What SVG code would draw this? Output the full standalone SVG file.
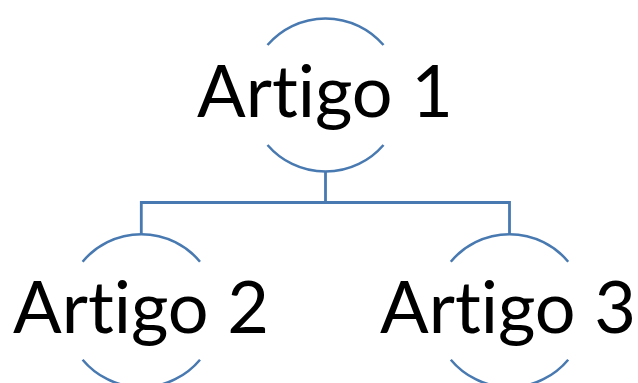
<svg xmlns="http://www.w3.org/2000/svg" width="638" height="383" viewBox="0 0 638 383">
  <style>
    .ring { fill: none; stroke: #4879B0; stroke-width: 2.5; }
    .link { fill: none; stroke: #4879B0; stroke-width: 2.8; }
    .label { font-family: Lato, "Open Sans", sans-serif; font-size: 72px; fill: #000; text-anchor: middle; font-variant-ligatures: none; font-feature-settings: "liga" 0; }
  </style>
  <rect width="638" height="383" fill="#fff"/>
  <g id="connectors">
    <path class="link" d="M325.5 171.5 V202.5 M141.3 234.2 V202.5 H509.5 V234.2"/>
  </g>
  <g id="artigo-1">
    <path class="ring" d="M267.5 45 A76.5 76.5 0 0 1 383.5 45"/>
    <path class="ring" d="M267.5 145 A76.5 76.5 0 0 0 383.5 145"/>
    <text class="label" x="325" y="117">Artigo 1</text>
  </g>
  <g id="artigo-2">
    <path class="ring" d="M82.6 261.7 A76.5 76.5 0 0 1 200 261.7"/>
    <path class="ring" d="M82.6 359.7 A76.5 76.5 0 0 0 200 359.7"/>
    <text class="label" x="141" y="333">Artigo 2</text>
  </g>
  <g id="artigo-3">
    <path class="ring" d="M450.8 261.7 A76.5 76.5 0 0 1 568.2 261.7"/>
    <path class="ring" d="M450.8 359.7 A76.5 76.5 0 0 0 568.2 359.7"/>
    <text class="label" x="508" y="333">Artigo 3</text>
  </g>
</svg>
